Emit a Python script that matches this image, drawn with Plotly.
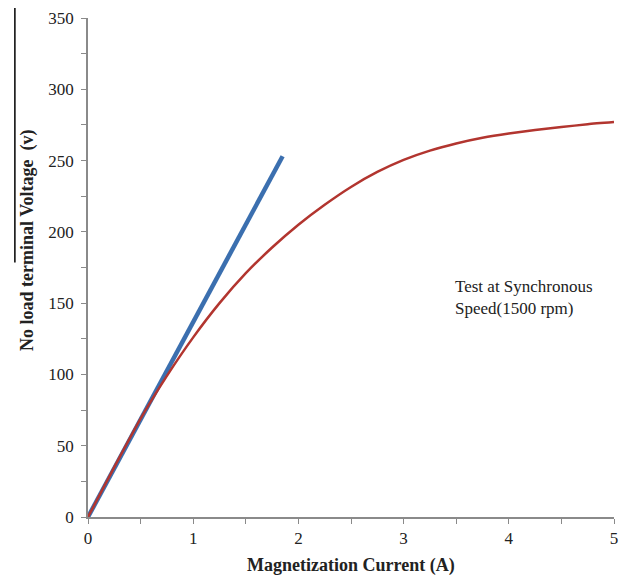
import plotly.graph_objects as go

blue_x = [0, 0.5, 1.0, 1.5, 1.85]
blue_y = [0, 68, 136, 204, 253]

red_x = [0, 0.25, 0.5, 0.75, 1.0, 1.25, 1.5, 1.75, 2.0, 2.25, 2.5, 2.75, 3.0, 3.25, 3.5, 3.75, 4.0, 4.25, 4.5, 4.75, 5.0]
red_y = [0, 35, 69, 99, 126, 150, 171, 189, 205, 219, 231.5, 242, 250.5, 257, 262, 266, 269, 271.5, 273.5, 275.5, 277]

x_ticks = [0, 1, 2, 3, 4, 5]
y_ticks = [0, 50, 100, 150, 200, 250, 300, 350]

FONT = "Liberation Serif"

fig = go.Figure()
fig.add_trace(go.Scatter(x=blue_x, y=blue_y, mode="lines",
                         line=dict(color="#3B6FAF", width=4.5), showlegend=False))
fig.add_trace(go.Scatter(x=red_x, y=red_y, mode="lines", line_shape="spline",
                         line=dict(color="#B2352F", width=2.5, smoothing=0.6), showlegend=False))

axis_common = dict(showgrid=False, zeroline=False, showline=True, linecolor="#8A8A8A",
                   linewidth=1.5, ticks="outside", ticklen=5, tickcolor="#8A8A8A",
                   automargin=False,
                   tickfont=dict(family=FONT, size=17, color="#222"))

fig.update_xaxes(range=[0, 5], tickvals=x_ticks,
                 minor=dict(dtick=0.5, ticks="outside", ticklen=5, tickcolor="#8A8A8A"),
                 **axis_common)
fig.update_yaxes(range=[0, 350], tickvals=y_ticks,
                 minor=dict(dtick=25, ticks="outside", ticklen=5, tickcolor="#8A8A8A"),
                 ticklabelstandoff=4,
                 **axis_common)

fig.add_annotation(x=0.5, y=-0.098, xref="paper", yref="paper", xanchor="center", yanchor="middle",
                   text="<b>Magnetization Current (A)</b>", showarrow=False,
                   font=dict(family=FONT, size=18, color="#222"))
fig.add_annotation(x=-0.116, y=0.555, xref="paper", yref="paper", xanchor="center", yanchor="middle",
                   text="<b>No load terminal Voltage  (v)</b>", showarrow=False, textangle=-90,
                   font=dict(family=FONT, size=18, color="#222"))

fig.add_annotation(x=3.47, y=154, xref="x", yref="y", xanchor="left", yanchor="middle",
                   text="Test at Synchronous<br>Speed(1500 rpm)", showarrow=False, align="left",
                   font=dict(family=FONT, size=17, color="#222"))

fig.add_shape(type="line", xref="paper", yref="paper", x0=-0.139, x1=-0.139, y0=0.51, y1=1.02,
              line=dict(color="black", width=1.5))

fig.update_layout(width=624, height=577, margin=dict(l=88, r=10, t=18, b=60),
                  plot_bgcolor="white", paper_bgcolor="white")

fig.write_html("out.html", config={"displayModeBar": False},
               post_script="document.body.style.margin='0px';document.body.style.overflow='hidden';")
